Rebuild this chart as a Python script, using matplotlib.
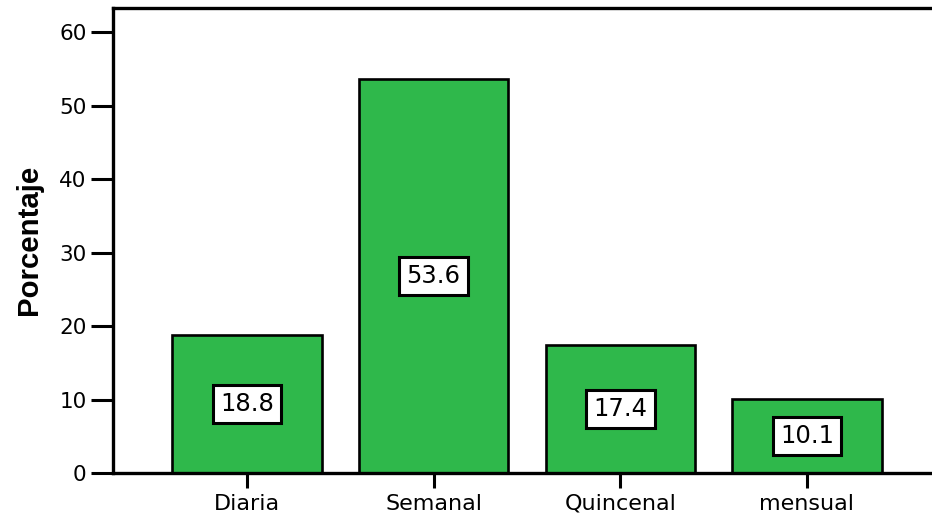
import matplotlib
matplotlib.use("Agg")
import matplotlib.pyplot as plt

categories = ["Diaria", "Semanal", "Quincenal", "mensual"]
values = [18.8, 53.6, 17.4, 10.1]
yticks = [0, 10, 20, 30, 40, 50, 60]

plt.rcParams['font.family'] = ['DejaVu Sans']

fig = plt.figure(figsize=(9.32, 5.17), dpi=100)
ax = fig.add_axes([113/932, 1 - 473/517, 1 - 113/932 + 0.01, (473-8)/517])

x = list(range(len(categories)))
ax.bar(x, values, width=0.8, color="#2fb84b", edgecolor="black", linewidth=1.9, zorder=2)
for xi, v in zip(x, values):
    ax.text(xi, v/2, f"{v:.1f}", ha="center", va="center", fontsize=17.5,
            bbox=dict(boxstyle="square,pad=0.3", fc="white", ec="black", lw=2.2), zorder=3)

ax.set_xlim(-0.717, 3.72)
ax.set_ylim(0, 63.3)
ax.set_yticks(yticks)
ax.set_xticks(x)
ax.set_xticklabels(categories)
ax.tick_params(axis="y", labelsize=15.5, length=16, width=2.2, direction="out", pad=3)
ax.tick_params(axis="x", labelsize=16, length=11, width=2.2, direction="out", pad=4)
for s in ["left", "bottom", "top"]:
    ax.spines[s].set_linewidth(2.4)
ax.spines["right"].set_visible(False)
fig.text(29/932, 1 - 240/517, "Porcentaje", rotation=90, ha="center", va="center",
         fontsize=21.2, fontweight="bold", family=["Liberation Sans", "DejaVu Sans"])

fig.savefig("out.png", dpi=100)
